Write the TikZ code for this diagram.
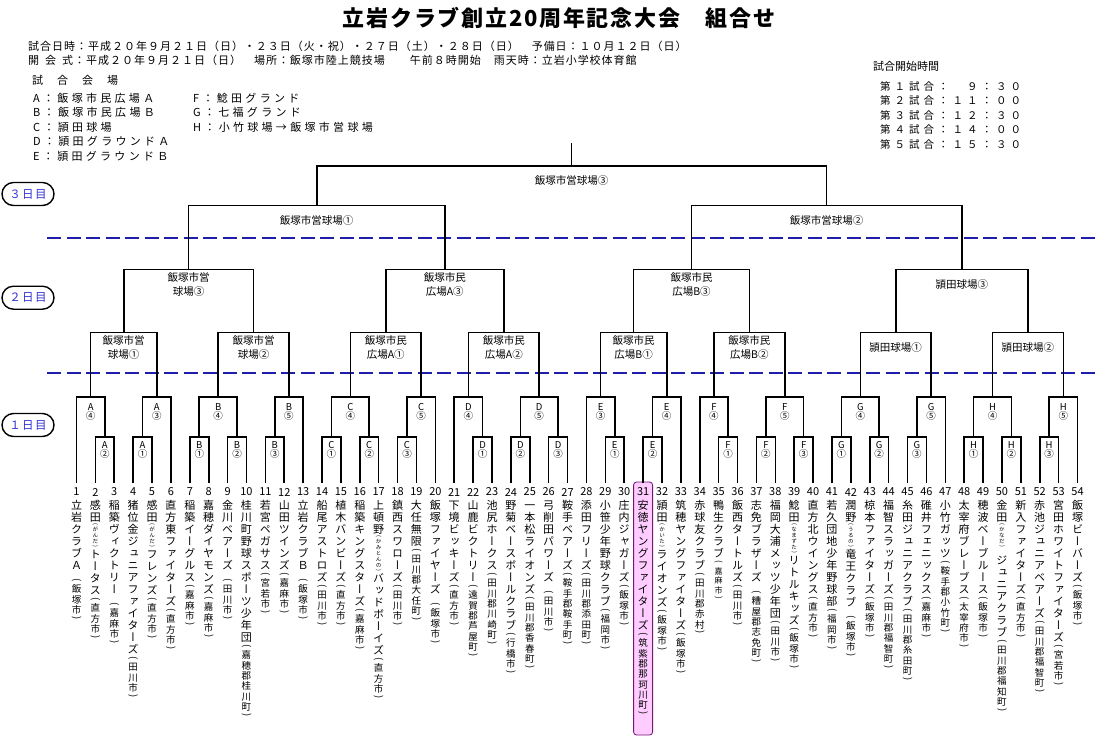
\documentclass[tikz,border=0pt]{standalone}
\usepackage{fontspec}
\usepackage{graphicx}
\setmainfont{Noto Sans CJK JP}
\newfontfamily\tatefont[RawFeature={+vert}]{Noto Sans CJK JP}
\usetikzlibrary{positioning,calc,shapes}

\definecolor{dashblue}{RGB}{30,30,170}
\definecolor{dayblue}{RGB}{50,50,215}
\definecolor{hlpink}{RGB}{255,204,255}
\definecolor{hlborder}{RGB}{120,20,120}

% vertical (tategaki) team labels, one cell per character
\newlength\tpitch
\newcommand\tcell[2]{\nointerlineskip\hbox to 16pt{\hss\vbox to #1{\vss\hbox{#2}\vss}\hss}}
\newcommand\tstrut{\vrule height .88em depth .12em width 0pt}
\def\tloop#1{\ifx\relax#1\else\tcell{\tpitch}{\tstrut#1}\expandafter\tloop\fi}
\newcommand\tparen[2]{\tcell{#1}{\rotatebox[origin=c]{-90}{#2}}}
\newcommand\tname[1]{{\tatefont\fontsize{11}{11}\selectfont\tpitch=12pt\tloop#1\relax}}
\newcommand\tcity[1]{{\tatefont\fontsize{9.5}{9.5}\selectfont\tpitch=10.3pt\tparen{7pt}{(}\tloop#1\relax\tparen{7pt}{)}}}
\newcommand\tsmall[1]{{\tatefont\fontsize{8}{8}\selectfont\tpitch=9.5pt\tparen{7pt}{(}\tloop#1\relax\tparen{7pt}{)}}}
\newcommand\truby[1]{{\tatefont\fontsize{5.5}{5.5}\selectfont\tpitch=6pt\tparen{3.5pt}{(}\tloop#1\relax\tparen{3.5pt}{)}}}
\newcommand\tgap{\nointerlineskip\vbox to 6pt{}}
\newcommand\cnum[1]{\ifcase#1\or ①\or ②\or ③\or ④\or ⑤\fi}

% one game: name, left entry, right entry, height of the bar
\newcommand\game[4]{%
  \coordinate (tmp) at ($(#2)!.5!(#3)$);
  \coordinate (#1) at (tmp |- 0,#4);
  \draw[br] (#2) |- (#1) -| (#3);}

\begin{document}
\begin{tikzpicture}[x=1pt,y=-1pt]
	\tikzset{br/.style={line width=1.6pt},
	  dayline/.style={dashblue,line width=2pt,dash pattern=on 14pt off 5.5pt},
	  daytag/.style={draw,fill=white,line width=1.4pt,rounded corners=11.5pt,minimum width=52pt,minimum height=23pt,inner sep=0pt,text=dayblue,font=\fontsize{11.5}{12}\selectfont\addfontfeature{LetterSpace=12}}}
	\tikzstyle{venue}=[font=\fontsize{10.5}{13.5}\selectfont,align=center,inner sep=0pt]
	\tikzstyle{sub}=[font=\fontsize{9.5}{9.5}\selectfont,align=center,inner sep=0pt]
	\tikzstyle{num}=[font=\fontsize{11}{11}\selectfont,inner sep=0pt]
	\tikzstyle{tate}=[inner sep=0pt,anchor=north]
	\tikzstyle{head}=[anchor=west,inner sep=0pt,font=\fontsize{11}{11}\selectfont\addfontfeature{LetterSpace=9}]
	\tikzstyle{legend}=[anchor=west,inner sep=0pt,font=\fontsize{11}{11}\selectfont\addfontfeature{LetterSpace=30}]
	\tikzstyle{timerow}=[anchor=west,inner sep=0pt,font=\fontsize{10.5}{10.5}\selectfont\addfontfeature{LetterSpace=38}]
	\tikzstyle{hilite}=[draw=hlborder,fill=hlpink,rounded corners=3pt,line width=0.8pt]

	\useasboundingbox[fill=white] (0,0) rectangle (1098,740);

	%% Title and header
	\node[font=\bfseries\fontsize{22}{24}\selectfont\addfontfeature{LetterSpace=8}] (title) at (559,18) {立岩クラブ創立20周年記念大会　組合せ};
	\node[head] (date) at (28,46) {試合日時：平成２０年９月２１日（日）・２３日（火・祝）・２７日（土）・２８日（日）　予備日：１０月１２日（日）};
	\node[head] (open) at (28,60) {開\hspace{6pt}会\hspace{6pt}式：平成２０年９月２１日（日）　場所：飯塚市陸上競技場　　午前８時開始　雨天時：立岩小学校体育館};
	\node[anchor=west,inner sep=0pt,font=\fontsize{11}{11}\selectfont] (fields) at (32,80) {試\hspace{14pt}合\hspace{14pt}会\hspace{14pt}場};
	\node[legend] (fa) at (33,98) {A：飯塚市民広場Ａ};
	\node[legend] (fb) at (33,112.5) {B：飯塚市民広場Ｂ};
	\node[legend] (fc) at (33,127) {C：頴田球場};
	\node[legend] (fd) at (33,141.5) {D：頴田グラウンドＡ};
	\node[legend] (fe) at (33,156) {E：頴田グラウンドＢ};
	\node[legend] (ff) at (193,98) {F：鯰田グランド};
	\node[legend] (fg) at (193,112.5) {G：七福グランド};
	\node[legend] (fh) at (193,127) {H：小竹球場→飯塚市営球場};

	%% Start times
	\node[anchor=west,inner sep=0pt,font=\fontsize{11}{11}\selectfont] (times) at (873,66) {試合開始時間};
	\node[timerow] (g1) at (880,86) {第１試合：　９：３０};
	\node[timerow] (g2) at (880,100.5) {第２試合：１１：００};
	\node[timerow] (g3) at (880,115) {第３試合：１２：３０};
	\node[timerow] (g4) at (880,129.5) {第４試合：１４：００};
	\node[timerow] (g5) at (880,144) {第５試合：１５：３０};

	%% Day lines and tags
	\draw[dayline] (47,237.7) -- (1098,237.7);
	\draw[dayline] (47,372.7) -- (1098,372.7);
	\node[daytag] (d3) at (28,194) {３日目};
	\node[daytag] (d2) at (28,297.7) {２日目};
	\node[daytag] (d1) at (28,425) {１日目};

	%% Teams
	\node[hilite,minimum width=19pt,minimum height=253pt] (hl31) at (643.1,608.5) {};
	\foreach \i/\nm in {
	  1/{\tname{立岩クラブＡ}\tgap\tcity{飯塚市}},
	  2/{\tname{感田}\truby{がんだ}\tname{トータス}\tcity{直方市}},
	  3/{\tname{稲築ヴィクトリー}\tgap\tcity{嘉麻市}},
	  4/{\tname{猪位金ジュニアファイターズ}\tcity{田川市}},
	  5/{\tname{感田}\truby{がんだ}\tname{フレンズ}\tcity{直方市}},
	  6/{\tname{直方東ファイターズ}\tcity{直方市}},
	  7/{\tname{稲築イーグルス}\tcity{嘉麻市}},
	  8/{\tname{嘉穂ダイヤモンズ}\tcity{嘉麻市}},
	  9/{\tname{金川ベアーズ}\tgap\tcity{田川市}},
	  10/{\tname{桂川町野球スポーツ少年団}\tcity{嘉穂郡桂川町}},
	  11/{\tname{若宮ペガサス}\tcity{宮若市}},
	  12/{\tname{山田ツインズ}\tcity{嘉麻市}},
	  13/{\tname{立岩クラブＢ}\tgap\tcity{飯塚市}},
	  14/{\tname{船尾アストロズ}\tcity{田川市}},
	  15/{\tname{植木バンビーズ}\tcity{直方市}},
	  16/{\tname{稲築キングスターズ}\tcity{嘉麻市}},
	  17/{\tname{上頓野}\truby{かみとんの}\tname{バッドボーイズ}\tcity{直方市}},
	  18/{\tname{鎮西スワローズ}\tcity{田川市}},
	  19/{\tname{大任無限}\tcity{田川郡大任町}},
	  20/{\tname{飯塚ファイヤーズ}\tgap\tcity{飯塚市}},
	  21/{\tname{下境ビッキーズ}\tcity{直方市}},
	  22/{\tname{山鹿ビクトリー}\tcity{遠賀郡芦屋町}},
	  23/{\tname{池尻ホークス}\tcity{田川郡川崎町}},
	  24/{\tname{野菊ベースボールクラブ}\tcity{行橋市}},
	  25/{\tname{一本松ライオンズ}\tcity{田川郡香春町}},
	  26/{\tname{弓削田パワーズ}\tgap\tcity{田川市}},
	  27/{\tname{鞍手ベアーズ}\tcity{鞍手郡鞍手町}},
	  28/{\tname{添田フリーズ}\tcity{田川郡添田町}},
	  29/{\tname{小笹少年野球クラブ}\tcity{福岡市}},
	  30/{\tname{庄内ジャガーズ}\tcity{飯塚市}},
	  31/{\tname{安徳ヤングファイターズ}\tcity{筑紫郡那珂川町}},
	  32/{\tname{頴田}\truby{かいた}\tname{ライオンズ}\tcity{飯塚市}},
	  33/{\tname{筑穂ヤングファイターズ}\tcity{飯塚市}},
	  34/{\tname{赤球友クラブ}\tcity{田川郡赤村}},
	  35/{\tname{鴨生クラブ}\tsmall{嘉麻市}},
	  36/{\tname{飯西タートルズ}\tcity{田川市}},
	  37/{\tname{志免ブラザーズ}\tgap\tcity{糟屋郡志免町}},
	  38/{\tname{福岡大浦メッツ少年団}\tcity{田川市}},
	  39/{\tname{鯰田}\truby{なまずた}\tname{リトルキッズ}\tcity{飯塚市}},
	  40/{\tname{直方北ウイングス}\tcity{直方市}},
	  41/{\tname{若久団地少年野球部}\tcity{福岡市}},
	  42/{\tname{潤野}\truby{うるの}\tname{竜王クラブ}\tgap\tcity{飯塚市}},
	  43/{\tname{椋本ファイターズ}\tcity{飯塚市}},
	  44/{\tname{福智スラッガーズ}\tcity{田川郡福智町}},
	  45/{\tname{糸田ジュニアクラブ}\tcity{田川郡糸田町}},
	  46/{\tname{碓井フェニックス}\tcity{嘉麻市}},
	  47/{\tname{小竹ガッツ}\tcity{鞍手郡小竹町}},
	  48/{\tname{太宰府ブレーブス}\tcity{太宰府市}},
	  49/{\tname{穂波ベーブルース}\tcity{飯塚市}},
	  50/{\tname{金田}\truby{かなだ}\tgap\tname{ジュニアクラブ}\tcity{田川郡福知町}},
	  51/{\tname{新入ファイターズ}\tcity{直方市}},
	  52/{\tname{赤池ジュニアベアーズ}\tcity{田川郡福智町}},
	  53/{\tname{宮田ホワイトファイターズ}\tcity{宮若市}},
	  54/{\tname{飯塚ビーバーズ}\tcity{飯塚市}}}{
	  \pgfmathsetmacro\tx{76.5+(\i-1)*18.887}
	  \coordinate (t\i) at (\tx,483);
	  \node[num] (n\i) at (\tx,492) {\i};
	  \node[tate] (l\i) at (\tx,499) {\vbox{\offinterlineskip\nm}};
	}

	%% Day 1: first games
	\foreach \vn/\kk/\ta in {A/2/2,A/1/4,B/1/7,B/2/9,B/3/11,C/1/14,C/2/16,C/3/18,D/1/22,D/2/24,D/3/26,E/1/29,E/2/31,F/1/35,F/2/37,F/3/39,G/1/41,G/2/43,G/3/45,H/1/48,H/2/50,H/3/52}{
	  \pgfmathtruncatemacro\tb{\ta+1}
	  \game{\vn\kk}{t\ta}{t\tb}{437}
	  \node[sub] (\vn\kk l) at ([yshift=-13pt]\vn\kk) {\vn\\\cnum{\kk}};
	}
	%% Day 1: second games
	\foreach \vn/\kk/\lf/\rt in {A/4/t1/A2,A/3/A1/t6,B/4/B1/B2,B/5/B3/t13,C/4/C1/C2,C/5/C3/t20,D/4/t21/D1,D/5/D2/D3,E/3/t28/E1,E/4/E2/t33,F/4/t34/F1,F/5/F2/F3,G/4/G1/G2,G/5/G3/t47,H/4/H1/H2,H/5/H3/t54}{
	  \game{\vn\kk}{\lf}{\rt}{397}
	  \node[sub] (\vn\kk l) at ([yshift=-15pt]\vn\kk) {\vn\\\cnum{\kk}};
	}

	%% Day 2
	\game{s1}{A4}{A3}{332.5}
	\game{s2}{B4}{B5}{332.5}
	\game{a1}{C4}{C5}{332.5}
	\game{a2}{D4}{D5}{332.5}
	\game{b1}{E3}{E4}{332.5}
	\game{b2}{F4}{F5}{332.5}
	\game{k1}{G4}{G5}{332.5}
	\game{k2}{H4}{H5}{332.5}
	\node[venue] (s1l) at ([yshift=-15pt]s1) {飯塚市営\\球場①};
	\node[venue] (s2l) at ([yshift=-15pt]s2) {飯塚市営\\球場②};
	\node[venue] (a1l) at ([yshift=-15pt]a1) {飯塚市民\\広場A①};
	\node[venue] (a2l) at ([yshift=-15pt]a2) {飯塚市民\\広場A②};
	\node[venue] (b1l) at ([yshift=-15pt]b1) {飯塚市民\\広場B①};
	\node[venue] (b2l) at ([yshift=-15pt]b2) {飯塚市民\\広場B②};
	\node[venue] (k1l) at ([yshift=-15pt]k1) {頴田球場①};
	\node[venue] (k2l) at ([yshift=-15pt]k2) {頴田球場②};

	\game{s3}{s1}{s2}{269.3}
	\game{a3}{a1}{a2}{269.3}
	\game{b3}{b1}{b2}{269.3}
	\game{k3}{k1}{k2}{269.3}
	\node[venue] (s3l) at ([yshift=-15pt]s3) {飯塚市営\\球場③};
	\node[venue] (a3l) at ([yshift=-15pt]a3) {飯塚市民\\広場A③};
	\node[venue] (b3l) at ([yshift=-15pt]b3) {飯塚市民\\広場B③};
	\node[venue] (k3l) at ([yshift=-15pt]k3) {頴田球場③};

	%% Day 3
	\game{q1}{s3}{a3}{205.4}
	\game{q2}{b3}{k3}{205.4}
	\node[venue] (q1l) at ([yshift=-15.5pt]q1) {飯塚市営球場①};
	\node[venue] (q2l) at ([yshift=-15.5pt]q2) {飯塚市営球場②};
	\game{fin}{q1}{q2}{165.8}
	\node[venue] (finl) at ([yshift=-15pt]fin) {飯塚市営球場③};
	\coordinate (win) at (fin |- 0,143);
	\draw[br] (fin) -- (win);
\end{tikzpicture}
\end{document}
